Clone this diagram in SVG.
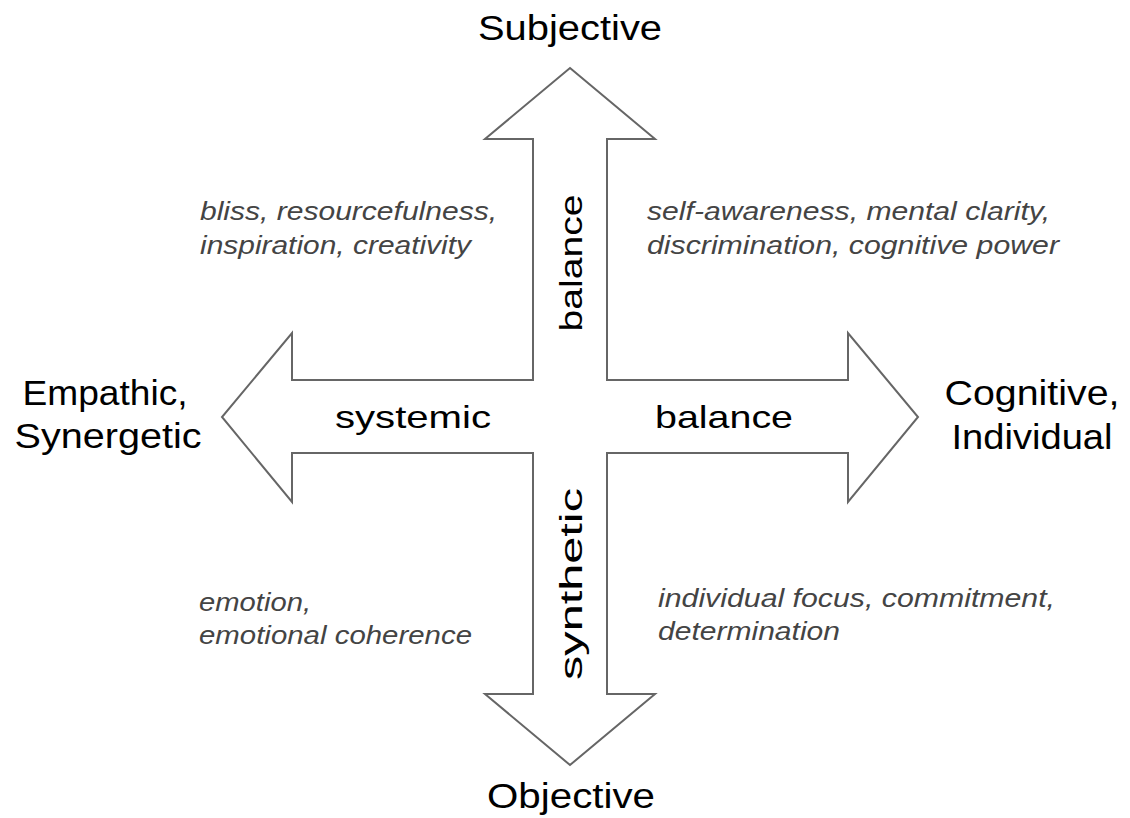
<svg xmlns="http://www.w3.org/2000/svg" width="1130" height="818" viewBox="0 0 1130 818">
  <style>
    .pole { font-family: "Liberation Sans", Arial, sans-serif; font-size: 35px; fill: #000; }
    .axis { font-family: "Liberation Sans", Arial, sans-serif; font-size: 32px; fill: #000; }
    .quality { font-family: "Liberation Sans", Arial, sans-serif; font-size: 25px; font-style: italic; fill: #444; }
    .cross { fill: #fff; stroke: #666; stroke-width: 2; stroke-linejoin: miter; }
  </style>
  <rect width="1130" height="818" fill="#fff"/>

  <!-- four-way arrow cross -->
  <g id="connectors">
    <polygon class="cross" points="570,68 655,139 607,139 607,380 848,380 848,333 918,417 848,502 848,453 607,453 607,694 655,694 570,765 485,694 533,694 533,453 292,453 292,502 222,417 292,333 292,380 533,380 533,139 485,139"/>
  </g>

  <!-- arm labels -->
  <g id="axis-labels">
    <text class="axis" x="413" y="428" text-anchor="middle" textLength="156" lengthAdjust="spacingAndGlyphs">systemic</text>
    <text class="axis" x="724" y="428" text-anchor="middle" textLength="138" lengthAdjust="spacingAndGlyphs">balance</text>
    <text class="axis" transform="translate(582,263) rotate(-90)" text-anchor="middle" textLength="137" lengthAdjust="spacingAndGlyphs">balance</text>
    <text class="axis" transform="translate(582,584) rotate(-90)" text-anchor="middle" textLength="192" lengthAdjust="spacingAndGlyphs">synthetic</text>
  </g>

  <!-- poles -->
  <g id="subjective"><text class="pole" x="570" y="40" text-anchor="middle" textLength="184" lengthAdjust="spacingAndGlyphs">Subjective</text></g>
  <g id="objective"><text class="pole" x="571" y="808" text-anchor="middle" textLength="168" lengthAdjust="spacingAndGlyphs">Objective</text></g>
  <g id="empathic">
    <text class="pole" x="105" y="405" text-anchor="middle" textLength="165" lengthAdjust="spacingAndGlyphs">Empathic,</text>
    <text class="pole" x="108" y="448" text-anchor="middle" textLength="187" lengthAdjust="spacingAndGlyphs">Synergetic</text>
  </g>
  <g id="cognitive">
    <text class="pole" x="1032" y="405" text-anchor="middle" textLength="175" lengthAdjust="spacingAndGlyphs">Cognitive,</text>
    <text class="pole" x="1032" y="449" text-anchor="middle" textLength="161" lengthAdjust="spacingAndGlyphs">Individual</text>
  </g>

  <!-- quadrant qualities -->
  <g id="quadrant-top-left">
    <text class="quality" x="200" y="220" textLength="297" lengthAdjust="spacingAndGlyphs">bliss, resourcefulness,</text>
    <text class="quality" x="200" y="254" textLength="271" lengthAdjust="spacingAndGlyphs">inspiration, creativity</text>
  </g>
  <g id="quadrant-top-right">
    <text class="quality" x="647" y="220" textLength="403" lengthAdjust="spacingAndGlyphs">self-awareness, mental clarity,</text>
    <text class="quality" x="647" y="254" textLength="412" lengthAdjust="spacingAndGlyphs">discrimination, cognitive power</text>
  </g>
  <g id="quadrant-bottom-left">
    <text class="quality" x="199" y="611" textLength="112" lengthAdjust="spacingAndGlyphs">emotion,</text>
    <text class="quality" x="199" y="644" textLength="273" lengthAdjust="spacingAndGlyphs">emotional coherence</text>
  </g>
  <g id="quadrant-bottom-right">
    <text class="quality" x="658" y="607" textLength="397" lengthAdjust="spacingAndGlyphs">individual focus, commitment,</text>
    <text class="quality" x="658" y="640" textLength="182" lengthAdjust="spacingAndGlyphs">determination</text>
  </g>
</svg>
